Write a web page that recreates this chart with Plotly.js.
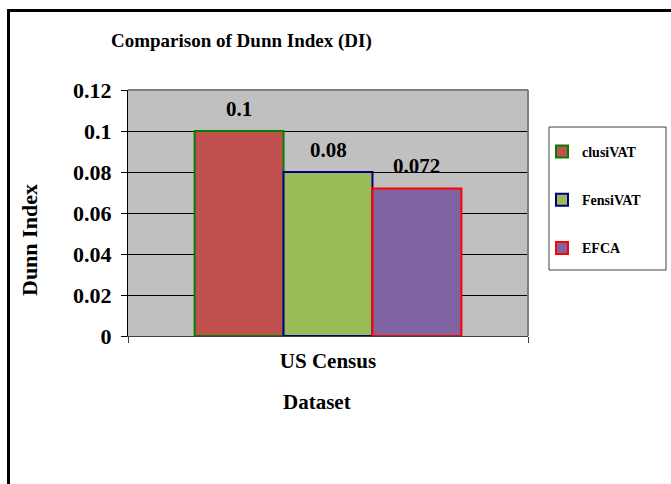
<!DOCTYPE html>
<html>
<head>
<meta charset="utf-8">
<script src="https://cdn.plot.ly/plotly-3.0.1.min.js"></script>
<style>
  html, body { margin: 0; padding: 0; background: #fff; }
  #wrap { position: relative; width: 671px; height: 484px; overflow: hidden; }
  #chart { position: absolute; left: 0; top: 0; width: 671px; height: 484px; }
  #frame { position: absolute; left: 7px; top: 9px; width: 700px; height: 500px;
           border-left: 3px solid #000; border-top: 3px solid #000; pointer-events: none; }
</style>
</head>
<body>
<div id="wrap">
  <div id="chart"></div>
  <div id="frame"></div>
</div>
<script>
// ---- data ----
const categories = ["US Census"];
const seriesNames = ["clusiVAT", "FensiVAT", "EFCA"];
const clusiVAT = [0.1];
const FensiVAT = [0.08];
const EFCA = [0.072];
const yTickVals = [0, 0.02, 0.04, 0.06, 0.08, 0.1, 0.12];
const titleText = "Comparison of Dunn Index (DI)";
const xTitleText = "Dataset";
const yTitleText = "Dunn Index";

// ---- styles ----
const fills = ["#C0504D", "#9BBB59", "#8064A2"];
const borders = ["#008000", "#000080", "#FF0000"];
const FONT = "'Liberation Serif', 'Times New Roman', Times, serif";

const W = 671, H = 484;
const margin = { l: 128, r: 143, t: 90, b: 148, pad: 0 };
const plotW = W - margin.l - margin.r;
const plotH = H - margin.t - margin.b;
const bargap = 0.333;
const seriesVals = [clusiVAT, FensiVAT, EFCA];
const barW = plotW * (1 - bargap) / seriesVals.length;

const traces = seriesVals.map((vals, i) => ({
  type: "bar",
  name: seriesNames[i],
  x: categories,
  y: vals,
  legendgroup: "g" + i,
  marker: { color: fills[i], line: { color: borders[i], width: 2 } },
  hoverinfo: "none"
}));

const pyTop = (y) => (H - margin.b - y) / plotH;
const pxL = (x) => (x - margin.l) / plotW;

const annotations = [];
seriesVals.forEach((vals, i) => {
  vals.forEach((v, j) => {
    annotations.push({
      x: categories[j], y: v, xref: "x", yref: "y",
      text: String(v), showarrow: false,
      xanchor: "center", yanchor: "bottom",
      xshift: (i - (seriesVals.length - 1) / 2) * barW,
      yshift: 8,
      font: { family: FONT, size: 21, color: "#000", weight: "bold" }
    });
  });
});
// axis titles
annotations.push({
  text: xTitleText, xref: "paper", yref: "paper",
  x: pxL(317), y: pyTop(402), xanchor: "center", yanchor: "middle",
  showarrow: false,
  font: { family: FONT, size: 21, color: "#000", weight: "bold" }
});
annotations.push({
  text: yTitleText, xref: "paper", yref: "paper",
  x: pxL(29), y: pyTop(240), xanchor: "center", yanchor: "middle",
  textangle: -90, showarrow: false,
  font: { family: FONT, size: 22, color: "#000", weight: "bold" }
});

const shapes = [
  { type: "line", xref: "paper", yref: "paper", x0: 0, x1: 1, y0: 1, y1: 1,
    line: { color: "#808080", width: 2 }, layer: "above" },
  { type: "line", xref: "paper", yref: "paper", x0: 1, x1: 1, y0: 0, y1: 1,
    line: { color: "#808080", width: 2 }, layer: "above" },
  { type: "rect", xref: "paper", yref: "paper",
    x0: pxL(549), x1: pxL(666), y0: pyTop(270), y1: pyTop(127),
    line: { color: "#404040", width: 1 }, fillcolor: "rgba(0,0,0,0)" }
];

const layout = {
  width: W, height: H,
  margin: margin,
  paper_bgcolor: "#ffffff",
  plot_bgcolor: "#C0C0C0",
  barmode: "group",
  bargap: bargap,
  bargroupgap: 0,
  font: { family: FONT, color: "#000" },
  title: {
    text: titleText,
    font: { family: FONT, size: 19, color: "#000", weight: "bold" },
    xref: "container", yref: "container",
    x: 111 / W, xanchor: "left",
    y: 1 - 40 / H, yanchor: "middle"
  },
  xaxis: {
    type: "category",
    showgrid: false,
    showline: true, linecolor: "#404040", linewidth: 1,
    ticks: "outside", tickson: "boundaries", ticklen: 6, tickcolor: "#404040",
    ticklabelstandoff: 6,
    tickfont: { family: FONT, size: 21, color: "#000", weight: "bold" },
    automargin: false, fixedrange: true
  },
  yaxis: {
    range: [0, 0.12],
    tickvals: yTickVals,
    showgrid: true, gridcolor: "#000000", gridwidth: 1,
    zeroline: false,
    showline: true, linecolor: "#000000", linewidth: 1,
    ticks: "outside", ticklen: 6, tickcolor: "#000",
    ticklabelstandoff: 5,
    tickfont: { family: FONT, size: 22, color: "#000", weight: "bold" },
    automargin: false, fixedrange: true
  },
  showlegend: true,
  legend: {
    x: pxL(542), xanchor: "left",
    y: pyTop(136), yanchor: "top",
    bgcolor: "rgba(0,0,0,0)",
    borderwidth: 0,
    traceorder: "grouped",
    tracegroupgap: 27,
    font: { family: FONT, size: 14, color: "#000", weight: "bold" }
  },
  annotations: annotations,
  shapes: shapes
};

Plotly.newPlot("chart", traces, layout, { staticPlot: true, displayModeBar: false });
</script>
</body>
</html>
